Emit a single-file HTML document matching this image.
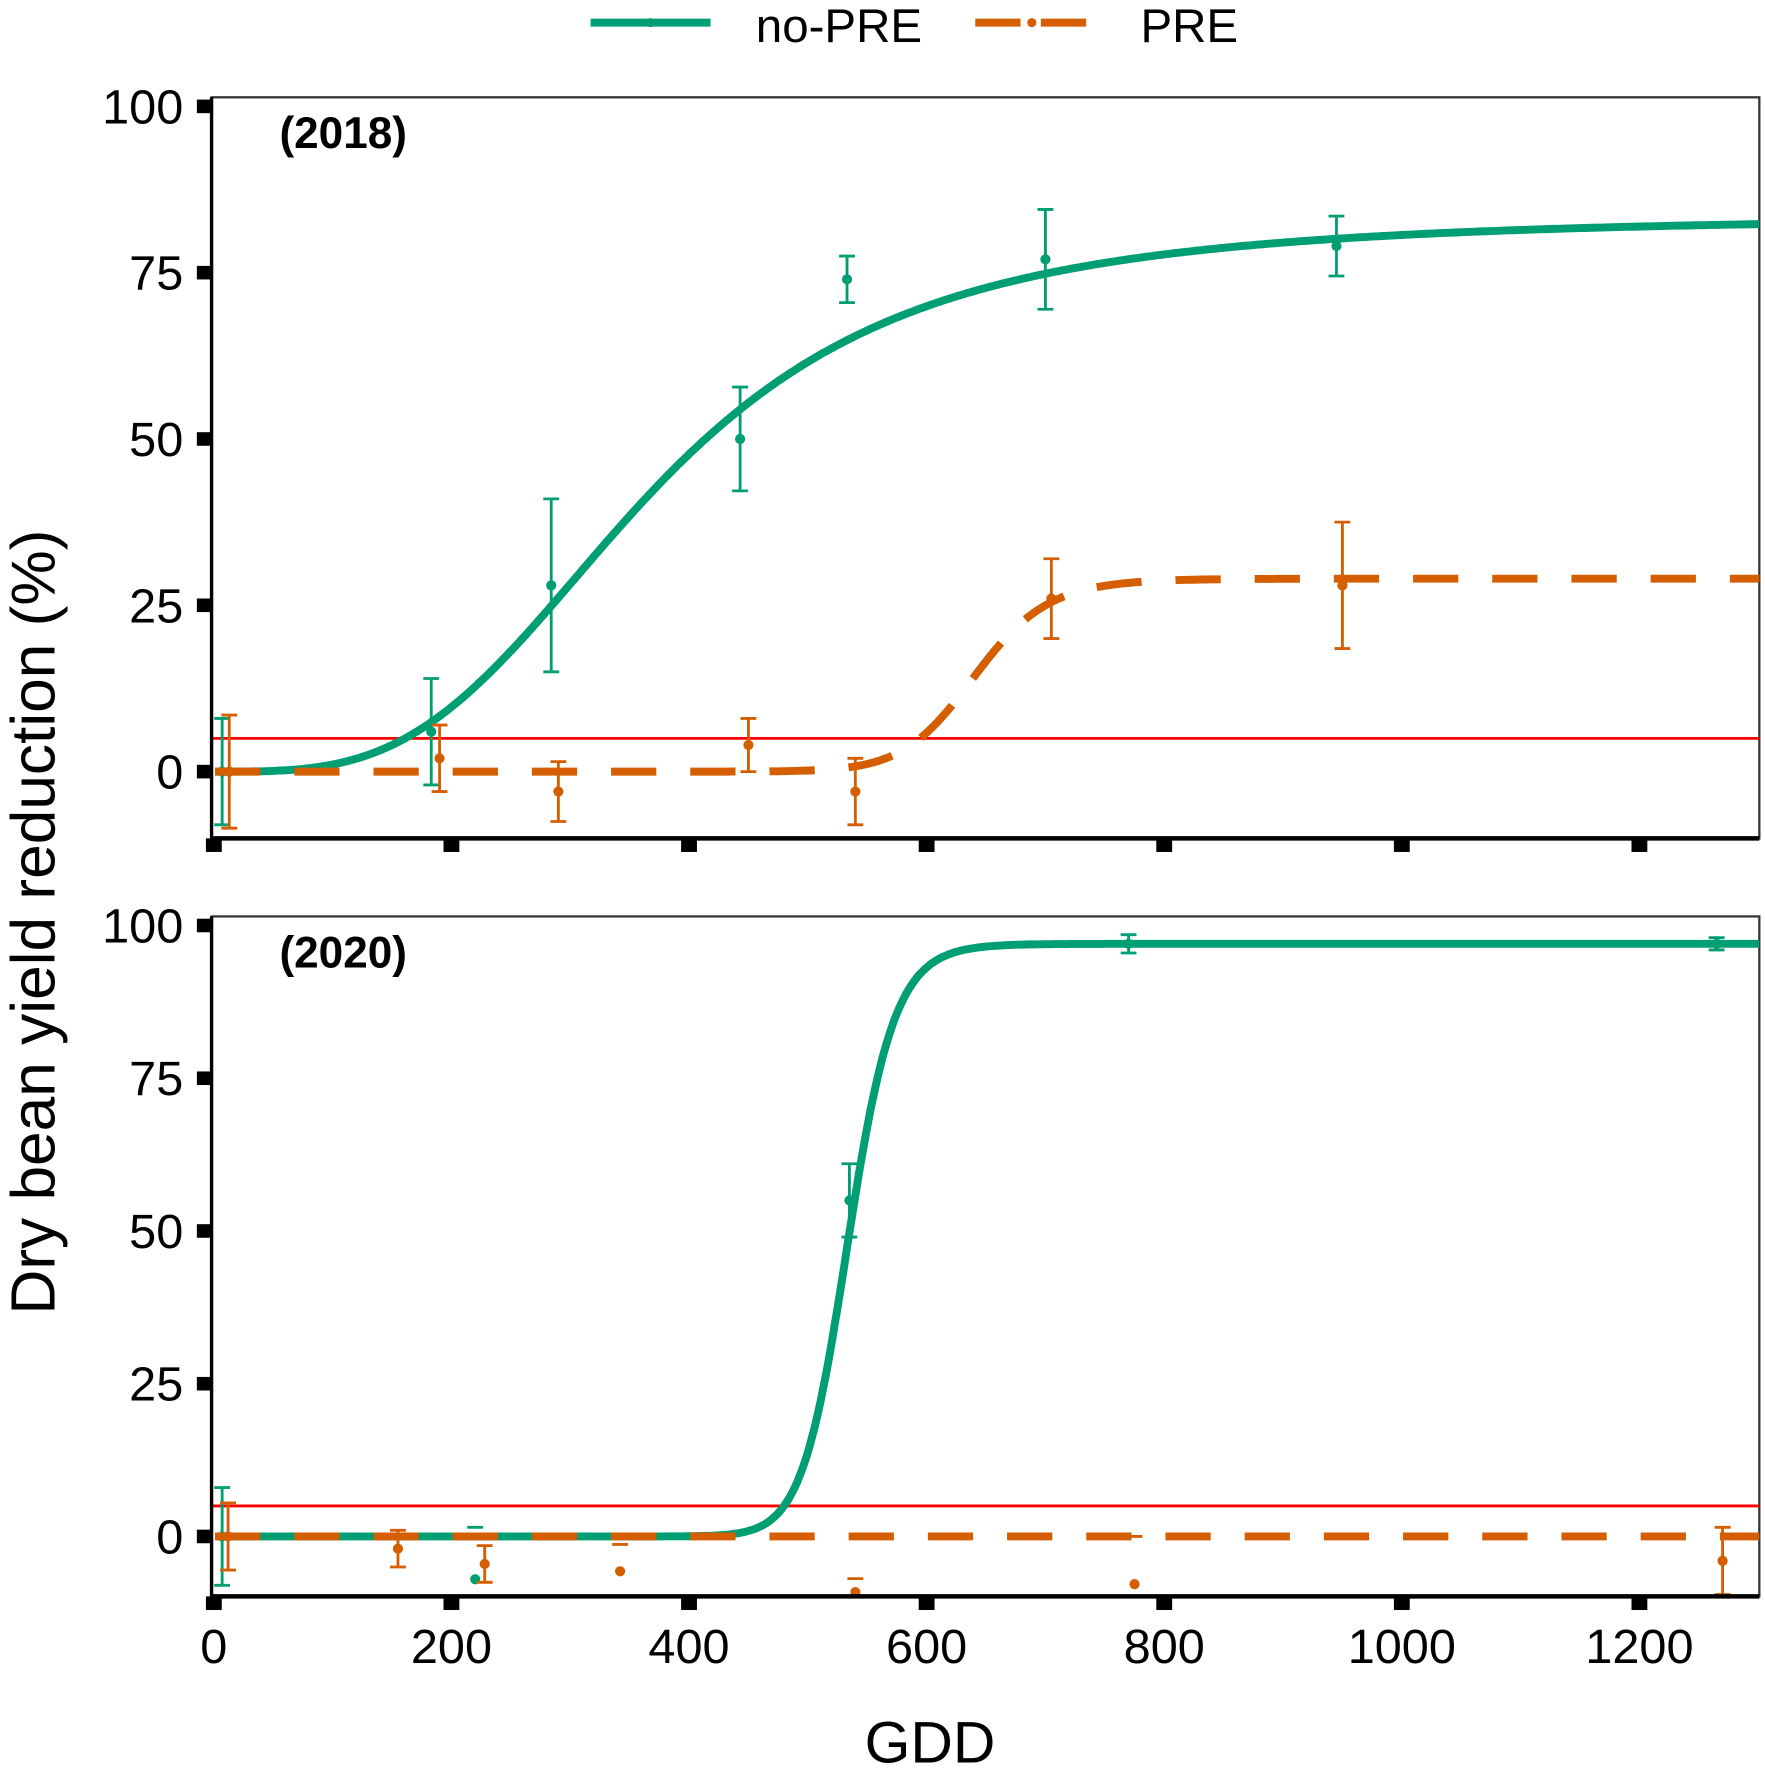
<!DOCTYPE html>
<html><head><meta charset="utf-8"><style>
html,body{margin:0;padding:0;background:#fff}
svg{display:block;font-family:"Liberation Sans",Arial,sans-serif}
</style></head><body>
<svg id="chart" width="1765" height="1771" viewBox="0 0 1560 1565.3" preserveAspectRatio="none" xmlns="http://www.w3.org/2000/svg">
<g id="legend">
  <g>
    <line x1="522" y1="20" x2="628" y2="20" stroke="#009e73" stroke-width="7"/>
    <circle cx="575" cy="20" r="4" fill="#009e73"/>
    <text x="668" y="37" font-size="42">no-PRE</text>
  </g>
  <g>
    <line x1="862" y1="20" x2="968" y2="20" stroke="#d55e00" stroke-width="7" stroke-dasharray="40,18"/>
    <circle cx="912" cy="20" r="4" fill="#d55e00"/>
    <text x="1008" y="37" font-size="42">PRE</text>
  </g>
</g>
<text transform="translate(48,815) rotate(-90)" text-anchor="middle" font-size="55">Dry bean yield reduction (%)</text>
<text x="822" y="1558" text-anchor="middle" font-size="52">GDD</text>
</svg>
<script>
const xTicks = [0, 200, 400, 600, 800, 1000, 1200];
const yTicks = [0, 25, 50, 75, 100];
const threshold = 5;
// 2018
const np18X = [7, 183, 284, 443, 533, 700, 945];
const np18Y = [0, 6, 28, 50, 74, 77, 79];
const np18E = [8, 8, 13, 7.8, 3.5, 7.5, 4.5];
const np18Cap = [null, null, null, null, null, null, null];
const pr18X = [13, 190, 290, 450, 540, 705, 950];
const pr18Y = [0, 2, -3, 4, -3, 26, 28];
const pr18E = [8.5, 5, 4.5, 4, 5, 6, 9.5];
const pr18Cap = [null, null, null, null, null, null, null];
const np18Fit = {d: 83.5, e: 367, b: 3.34};
const pr18Fit = {d: 29, e: 641, b: 20.8};
// 2020
const np20X = [7, 220, 535, 770, 1265];
const np20Y = [0, -7, 55, 97, 97];
const np20E = [8, 0, 6, 1.5, 1];
const np20Cap = [null, 1.5, null, null, null];
const pr20X = [12, 155, 228, 342, 540, 775, 1270];
const pr20Y = [0, -2, -4.5, -5.7, -9.1, -7.8, -4];
const pr20E = [5.5, 3, 3, 0, 0, 0, 5.5];
const pr20Cap = [null, null, null, -1.3, -6.9, 0, null];
const np20Fit = {d: 97, e: 534, b: 27.3};
const pr20Fit = {d: 0, e: 500, b: 10};

const NS = "http://www.w3.org/2000/svg";
const svg = document.getElementById('chart');
function mk(tag, attrs, parent){const e=document.createElementNS(NS,tag);for(const k in attrs)e.setAttribute(k,attrs[k]);(parent||svg).appendChild(e);return e;}
const GREEN="#009e73", ORANGE="#d55e00";
const xL=187, xR=1555;
const xs = v => 189 + v*1.05;

function panel(name, top, bottom, y0px, y100px, label, series){
  const ys = v => y0px + (y100px - y0px)*v/100;
  const g = mk('g',{});
  
  
  const frame = mk('rect',{x:xL,y:top,width:xR-xL,height:bottom-top,fill:'none',stroke:'#333','stroke-width':2},g);
  
  
  const clipId = name+'-clip';
  const cp = mk('clipPath',{id:clipId},g);
  mk('rect',{x:xL,y:top,width:xR-xL,height:bottom-top},cp);
  const plot = mk('g',{'clip-path':'url(#'+clipId+')'},g);
  const rl = mk('line',{x1:xL,x2:xR,y1:ys(threshold),y2:ys(threshold),stroke:'#ff0000','stroke-width':2.5},plot);
  
  
  series.forEach(s=>{
    let d='';
    for(let x=1;x<=1310;x+=2){
      const y = s.fit.d/(1+Math.pow(s.fit.e/x, s.fit.b));
      d += (d?'L':'M')+xs(x).toFixed(1)+','+ys(y).toFixed(1);
    }
    const p = mk('path',{d:d,fill:'none',stroke:s.color,'stroke-width':7},plot);
    if(s.dash) p.setAttribute('stroke-dasharray','40,30');
    
    
    s.x.forEach((xv,i)=>{
      const cx=xs(xv), cy=ys(s.y[i]);
      if(s.e[i]>0){
        const lo=ys(s.y[i]-s.e[i]), hi=ys(s.y[i]+s.e[i]);
        const eb = mk('path',{d:`M${cx},${lo}L${cx},${hi}M${cx-7},${lo}L${cx+7},${lo}M${cx-7},${hi}L${cx+7},${hi}`,stroke:s.color,'stroke-width':2.5,fill:'none'},plot);
        
        
      }
      if(s.cap[i]!==null){
        const cy2=ys(s.cap[i]);
        const cb = mk('path',{d:`M${cx-7},${cy2}L${cx+7},${cy2}`,stroke:s.color,'stroke-width':2.5},plot);
        
        
      }
      const c = mk('circle',{cx:cx,cy:cy,r:4.5,fill:s.color},plot);
      
      
    });
  });
  mk('line',{x1:xL,x2:xR,y1:bottom,y2:bottom,stroke:'#000','stroke-width':4},g);
  mk('line',{x1:xL,x2:xL,y1:top,y2:bottom,stroke:'#000','stroke-width':3},g);
  yTicks.forEach(t=>{
    const tk = mk('rect',{x:174,y:ys(t)-6,width:13,height:12,fill:'#000'},g);
    
    
    const tl = mk('text',{x:162,y:ys(t)+15,'text-anchor':'end','font-size':43},g);
    tl.textContent=t;
    
    
  });
  xTicks.forEach(t=>{
    const tk = mk('rect',{x:xs(t)-7,y:bottom,width:14,height:12,fill:'#000'},g);
    
    
  });
  const pl = mk('text',{x:247,y:top+45,'font-size':39,'font-weight':'bold'},g);
  pl.textContent=label;
  
  
  return ys;
}
panel('panel-2018', 86, 741, 682, 94, '(2018)', [
  {name:'no-pre',color:GREEN,fit:np18Fit,x:np18X,y:np18Y,e:np18E,cap:np18Cap,dash:false},
  {name:'pre',color:ORANGE,fit:pr18Fit,x:pr18X,y:pr18Y,e:pr18E,cap:pr18Cap,dash:true}
]);
panel('panel-2020', 810, 1411, 1358, 818, '(2020)', [
  {name:'no-pre',color:GREEN,fit:np20Fit,x:np20X,y:np20Y,e:np20E,cap:np20Cap,dash:false},
  {name:'pre',color:ORANGE,fit:pr20Fit,x:pr20X,y:pr20Y,e:pr20E,cap:pr20Cap,dash:true}
]);
xTicks.forEach(t=>{
  const tl = mk('text',{x:xs(t),y:1470,'text-anchor':'middle','font-size':43});
  tl.textContent=t;
  
  
});
</script>
</body></html>
